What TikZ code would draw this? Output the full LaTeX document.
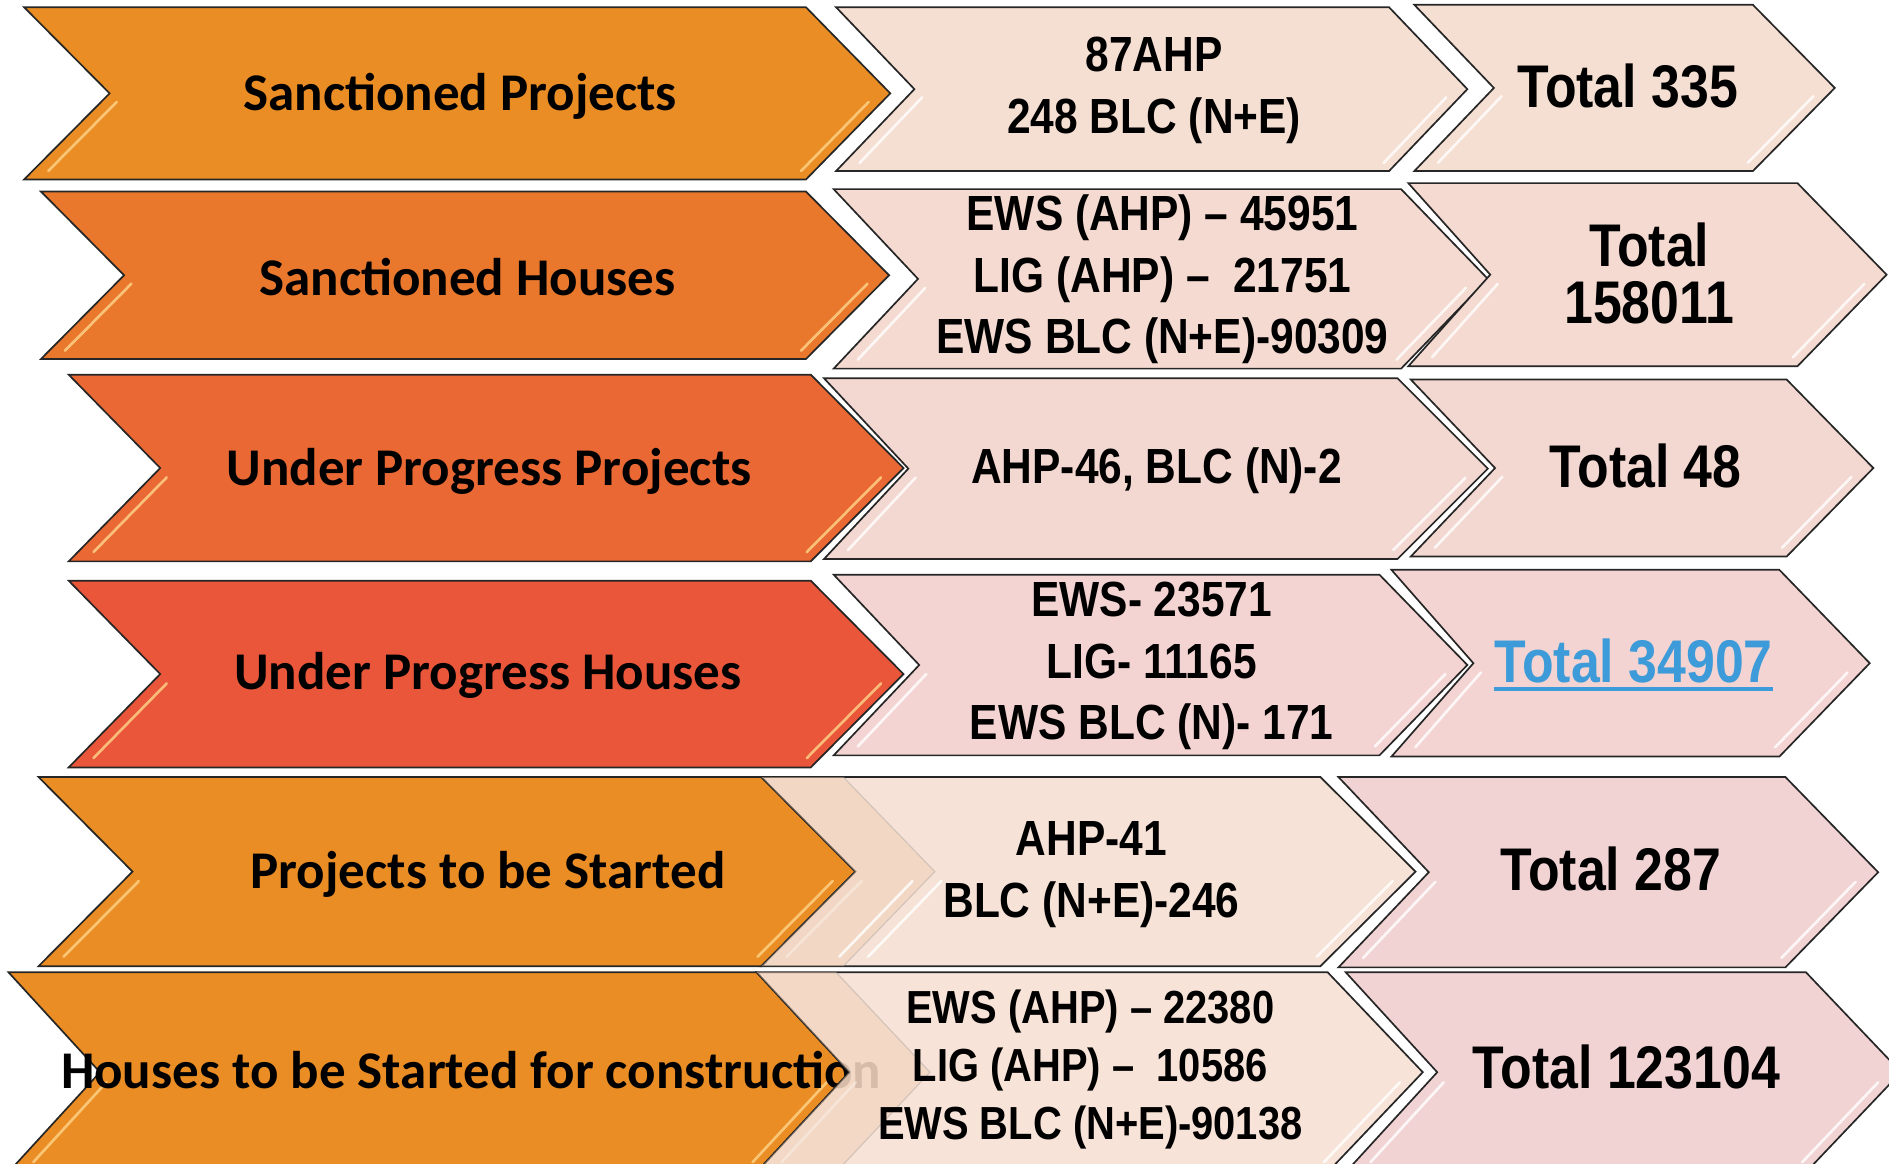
\documentclass[tikz,border=0pt]{standalone}
\usepackage{fontspec}
\usetikzlibrary{calc}
\newfontfamily\calb{Carlito}
\newfontfamily\arnb{Liberation Sans}[FakeStretch=0.86]
\definecolor{orA}{HTML}{EA8D24}
\definecolor{orB}{HTML}{E9782D}
\definecolor{orC}{HTML}{E96834}
\definecolor{orD}{HTML}{E9563A}
\definecolor{pkA}{HTML}{F5DED2}
\definecolor{pkB}{HTML}{F4DAD0}
\definecolor{pkC}{HTML}{F3D7D1}
\definecolor{pkD}{HTML}{F3D4D2}
\definecolor{pkE}{HTML}{F5DDCF}
\definecolor{pkF}{HTML}{F2D3D4}
\definecolor{bandc}{HTML}{EECBB0}
\definecolor{hlor}{HTML}{FFD58A}
\definecolor{linkblue}{HTML}{3C9BD8}
% [#1 extra] #2 x0, #3 notch depth, #4 x1, #5 tip x, #6 top, #7 bottom, #8 fill
\newcommand{\chev}[8][]{%
  \path[fill=#8, draw=black!85, line width=1.4pt, line join=miter, #1]
    (#2,#6) -- (#4,#6) -- (#5,{(#6+#7)/2}) -- (#4,#7) -- (#2,#7) -- ({#2+#3},{(#6+#7)/2}) -- cycle;}
% highlight lines: #1 x0, #2 d, #3 x1, #4 xt, #5 top, #6 bottom, #7 colour
\newcommand{\hlite}[7]{%
  \draw[#7, line width=2.2pt, line cap=round, opacity=0.8]
    ($({#1+#2},{(#5+#6)/2})!0.1!(#1,#6)+(13,0)$) -- ($({#1+#2},{(#5+#6)/2})!0.9!(#1,#6)+(13,0)$);
  \draw[#7, line width=2.2pt, line cap=round, opacity=0.8]
    ($(#4,{(#5+#6)/2})!0.1!(#3,#6)+(-11,0)$) -- ($(#4,{(#5+#6)/2})!0.9!(#3,#6)+(-11,0)$);}
\tikzset{
  lbl/.style={font=\calb\bfseries\fontsize{44}{50}\selectfont, inner sep=0pt, text=black},
  midt/.style={font=\arnb\bfseries\fontsize{41}{51}\selectfont, align=center, inner sep=0pt, text=black},
  tot/.style={font=\arnb\bfseries\fontsize{50}{47}\selectfont, align=center, inner sep=0pt, text=black}
}
\begin{document}
\begin{tikzpicture}[x=1pt,y=-1pt]
\useasboundingbox (0,0) rectangle (1568,966);
\clip (0,0) rectangle (1568,966);
\fill[white] (0,0) rectangle (1568,966);

% ---------- Row 1
\chev{20}{71}{669}{739}{6}{149}{orA}
\hlite{20}{71}{669}{739}{6}{149}{hlor}
\node[lbl] (l1) at (382,80) {Sanctioned Projects};
\chev{694}{65}{1153}{1218}{6}{142}{pkA}
\hlite{694}{65}{1153}{1218}{6}{142}{white}
\node[midt] (m1) at (958,75) {87AHP\\248 BLC (N+E)};
\chev{1174}{66}{1455}{1523}{4}{142}{pkA}
\hlite{1174}{66}{1455}{1523}{4}{142}{white}
\node[tot] (t1) at (1351,71) {Total 335};

% ---------- Row 2
\chev{34}{69}{669}{738}{159}{298}{orB}
\hlite{34}{69}{669}{738}{159}{298}{hlor}
\node[lbl] (l2) at (388,230) {Sanctioned Houses};
\chev{692}{70}{1163}{1235}{157}{306}{pkB}
\hlite{692}{70}{1163}{1235}{157}{306}{white}
\node[midt] (m2) at (965,232) {EWS (AHP) – 45951\\LIG (AHP) – ~21751\\EWS BLC (N+E)-90309};
\chev{1169}{68}{1492}{1566}{152}{304}{pkB}
\hlite{1169}{68}{1492}{1566}{152}{304}{white}
\node[tot] (t2) at (1369,227) {Total\\158011};

% ---------- Row 3
\chev{57}{76}{673}{750}{311}{466}{orC}
\hlite{57}{76}{673}{750}{311}{466}{hlor}
\node[lbl] (l3) at (406,391) {Under Progress Projects};
\chev{684}{70}{1160}{1235}{314}{464}{pkC}
\hlite{684}{70}{1160}{1235}{314}{464}{white}
\node[midt] (m3) at (960,391) {AHP-46, BLC (N)-2};
\chev{1171}{70}{1483}{1555}{315}{462}{pkC}
\hlite{1171}{70}{1483}{1555}{315}{462}{white}
\node[tot] (t3) at (1366,387) {Total 48};

% ---------- Row 4
\chev{57}{76}{673}{750}{482}{637}{orD}
\hlite{57}{76}{673}{750}{482}{637}{hlor}
\node[lbl] (l4) at (405,561) {Under Progress Houses};
\chev{692}{71}{1145}{1218}{477}{627}{pkD}
\hlite{692}{71}{1145}{1218}{477}{627}{white}
\node[midt] (m4) at (956,553) {EWS- 23571\\LIG- 11165\\EWS BLC (N)- 171};
\chev{1155}{68}{1477}{1552}{473}{628}{pkD}
\hlite{1155}{68}{1477}{1552}{473}{628}{white}
\node[tot, text=linkblue] (t4) at (1356,549) {Total 34907};
\draw[linkblue, line width=3.5pt] ([yshift=-5pt]t4.base west) -- ([yshift=-5pt]t4.base east);

% ---------- Row 5
\chev{32}{78}{632}{710}{645}{802}{orA}
\hlite{32}{78}{632}{710}{645}{802}{hlor}
\node[lbl] (l5) at (405,726) {Projects to be Started};
\chev[fill opacity=0.85]{632}{78}{1096}{1175}{645}{802}{pkE}
\hlite{632}{78}{1096}{1175}{645}{802}{white}
\path[fill=bandc, fill opacity=0.45] (632,645) -- (700,645) -- (776,723.5) -- (700,802) -- (632,802) -- (710,723.5) -- cycle;
\draw[black!40, opacity=0.35, line width=1pt] (700,645) -- (776,723.5) -- (700,802);
\hlite{700}{76}{700}{776}{645}{802}{white}
\node[midt] (m5) at (906,726) {AHP-41\\BLC (N+E)-246};
\chev{1111}{75}{1482}{1559}{645}{803}{pkF}
\hlite{1111}{75}{1482}{1559}{645}{803}{white}
\node[tot] (t5) at (1337,721) {Total 287};

% ---------- Row 6
\chev{7}{76}{628}{705}{807}{973}{orA}
\hlite{7}{76}{628}{705}{807}{973}{hlor}
\node[lbl] (l6) at (391,888) {Houses to be Started for construction};
\chev[fill opacity=0.8]{628}{77}{1102}{1181}{807}{973}{pkE}
\hlite{628}{77}{1102}{1181}{807}{973}{white}
\path[fill=bandc, fill opacity=0.45] (628,807) -- (694,807) -- (772,890) -- (694,973) -- (628,973) -- (705,890) -- cycle;
\draw[black!40, opacity=0.35, line width=1pt] (694,807) -- (772,890) -- (694,973);
\node[midt, font=\arnb\bfseries\fontsize{38.5}{48}\selectfont] (m6) at (905,888) {EWS (AHP) – 22380\\LIG (AHP) – ~10586\\EWS BLC (N+E)-90138};
\chev{1117}{76}{1499}{1578}{807}{973}{pkF}
\hlite{1117}{76}{1499}{1578}{807}{973}{white}
\node[tot] (t6) at (1350,886) {Total 123104};
\end{tikzpicture}
\end{document}
